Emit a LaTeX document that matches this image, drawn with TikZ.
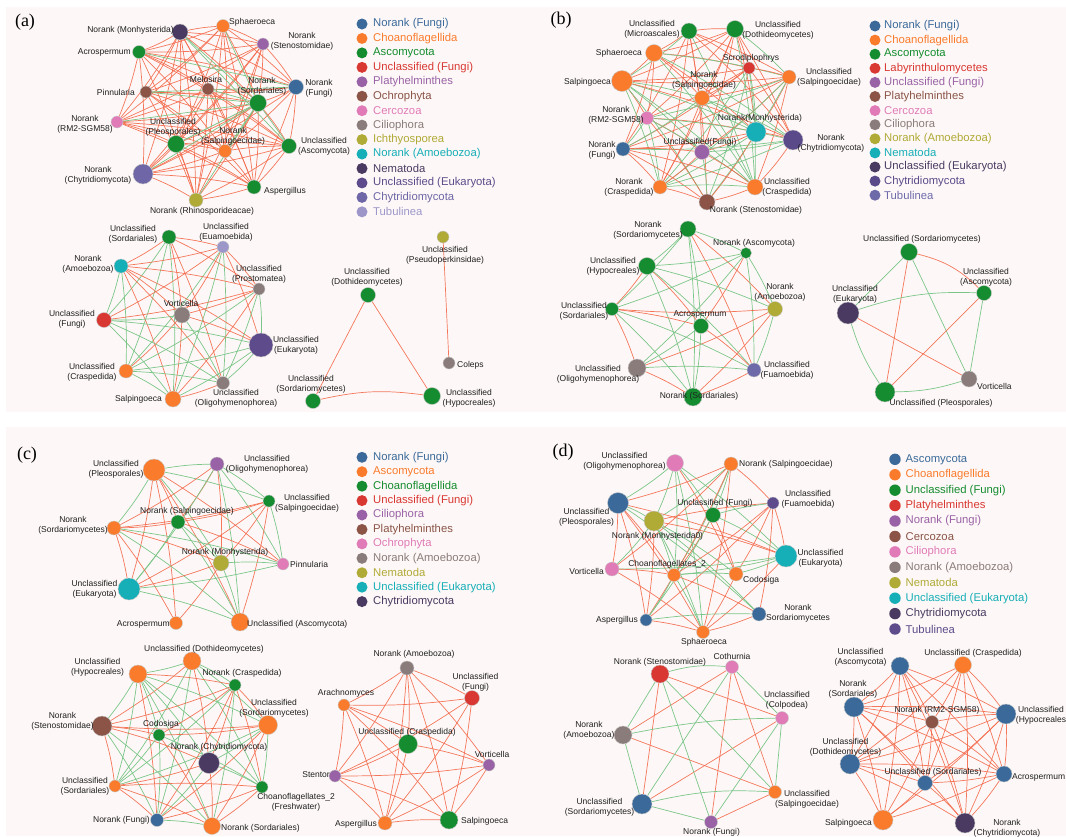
\documentclass[tikz,border=0pt]{standalone}
\usepackage{fontspec}
\setmainfont{Liberation Sans}
\newfontfamily\panelserif{Liberation Serif}
\pgfdeclarelayer{bglayer}
\pgfdeclarelayer{edgelayer}
\pgfsetlayers{bglayer,edgelayer,main}
\definecolor{cBlue}{HTML}{3B6A9A}
\definecolor{cOrange}{HTML}{FA7B2C}
\definecolor{cGreen}{HTML}{148C2F}
\definecolor{cRed}{HTML}{D93731}
\definecolor{cPurple}{HTML}{9A62A6}
\definecolor{cBrown}{HTML}{8B5447}
\definecolor{cPink}{HTML}{E07BB7}
\definecolor{cGray}{HTML}{8A7C7A}
\definecolor{cOlive}{HTML}{B0AA36}
\definecolor{cTeal}{HTML}{16AEB7}
\definecolor{cDark}{HTML}{4A3A62}
\definecolor{cEuk}{HTML}{5D4B8B}
\definecolor{cChy}{HTML}{6E66A6}
\definecolor{cTub}{HTML}{9D96C9}
\definecolor{cChyB}{HTML}{5B4A8A}
\definecolor{cTubB}{HTML}{6E6AAA}
\definecolor{cTubD}{HTML}{5E4B8C}
\definecolor{eRed}{HTML}{F4694A}
\definecolor{eGreen}{HTML}{7CC689}
\definecolor{panelbg}{HTML}{FDF8F7}
\newcommand\vtxnode[4]{\node[vtx,minimum size={2*#3},fill=#4] (#1) at (#2) {};}
\newcommand\labC[3]{\node[lbl] (#1l) at (#2) {#3};}
\newcommand\labE[3]{\node[lbl,anchor=east] (#1l) at (#2) {#3};}
\newcommand\labW[3]{\node[lbl,anchor=west] (#1l) at (#2) {#3};}
\newcommand\randnet[5]{%
  \pgfmathsetseed{#3}%
  \foreach \i in {1,...,#2}{%
    \foreach \j in {1,...,#2}{%
      \ifnum\j>\i\relax
        \pgfmathrandominteger{\rndv}{0}{99}%
        \ifnum\rndv<#4\relax\else
          \ifnum\rndv<#5\relax
            \draw[redE] (#1\i) to[bend left=4] (#1\j);
          \else
            \draw[greenE] (#1\i) to[bend left=4] (#1\j);
          \fi
        \fi
      \fi
    }%
  }%
}
\begin{document}
\begin{tikzpicture}[x=1pt,y=-1pt,
  vtx/.style={circle,inner sep=0pt,draw=black!22,line width=0.4pt},
  lbl/.style={font=\fontsize{8.5}{10.3}\selectfont,align=center,inner sep=0pt,text=black!88},
  ldot/.style={circle,inner sep=0pt,minimum size=11pt},
  ltxt/.style={font=\fontsize{11.3}{13}\selectfont,inner sep=0pt,anchor=west},
  ptag/.style={font=\panelserif\fontsize{18}{20}\selectfont,inner sep=0pt},
  redE/.style={draw=eRed,line width=0.7pt,opacity=0.9},
  greenE/.style={draw=eGreen,line width=0.7pt}]
\useasboundingbox (0,0) rectangle (1066,836);
\begin{pgfonlayer}{bglayer}
\fill[white] (0,0) rectangle (1066,836);
\fill[panelbg] (6,7) rectangle (1066,412);
\fill[panelbg] (6,427) rectangle (1066,836);
\end{pgfonlayer}
% panel tags
\node[ptag] (pa) at (25,22) {(a)};
\node[ptag] (pb) at (561,20) {(b)};
\node[ptag] (pc) at (27,455) {(c)};
\node[ptag] (pd) at (563,452) {(d)};
% ---------- panel a top
\vtxnode{A1}{180,32}{8}{cDark}
\vtxnode{A2}{223,26}{6.5}{cOrange}
\vtxnode{A3}{263,44}{6}{cPurple}
\vtxnode{A4}{139,52}{6.5}{cGreen}
\vtxnode{A5}{296,87}{7.5}{cBlue}
\vtxnode{A6}{208,89}{6}{cBrown}
\vtxnode{A7}{146,92}{6}{cBrown}
\vtxnode{A8}{258,103}{8.5}{cGreen}
\vtxnode{A9}{117,122}{6}{cPink}
\vtxnode{A10}{176,144}{8.5}{cGreen}
\vtxnode{A11}{225,151}{6.5}{cOrange}
\vtxnode{A12}{289,146}{7.5}{cGreen}
\vtxnode{A13}{143,174}{10}{cChy}
\vtxnode{A14}{254,187}{7}{cGreen}
\vtxnode{A15}{196,200}{7}{cOlive}
\labE{A1}{174,30}{Norank (Monhysterida)}
\labW{A2}{229,22}{Sphaeroeca}
\labC{A3}{302,41}{Norank\\(Stenostomidae)}
\labE{A4}{131,52}{Acrospermum}
\labC{A5}{319,88}{Norank\\(Fungi)}
\labC{A6}{206,79}{Melosira}
\labE{A7}{135,92}{Pinnularia}
\labC{A8}{262,86}{Norank\\(Sordariales)}
\labC{A9}{85,124}{Norank\\(RM2-SGM58)}
\labC{A10}{173,127}{Unclassified\\(Pleosporales)}
\labC{A11}{233,136.5}{Norank\\(Salpingoecidae)}
\labC{A12}{324,146}{Unclassified\\(Ascomycota)}
\labC{A13}{98,175}{Norank\\(Chytridiomycota)}
\labW{A14}{264,191}{Aspergillus}
\labC{A15}{202,211}{Norank (Rhinosporideacae)}
% ---------- panel a bottom left
\vtxnode{Ab1}{169,237}{7}{cGreen}
\vtxnode{Ab2}{223,247}{6}{cTub}
\vtxnode{Ab3}{121,266}{7}{cTeal}
\vtxnode{Ab4}{259,289}{6}{cGray}
\vtxnode{Ab5}{182,315}{8}{cGray}
\vtxnode{Ab6}{104,320}{7.5}{cRed}
\vtxnode{Ab7}{261,345}{12}{cEuk}
\vtxnode{Ab8}{126,371}{7}{cOrange}
\vtxnode{Ab9}{223,383}{6.5}{cGray}
\vtxnode{Ab10}{173,399}{8}{cOrange}
\labC{Ab1}{133,234}{Unclassified\\(Sordariales)}
\labC{Ab2}{226,232}{Unclassified\\(Euamoebida)}
\labC{Ab3}{88,264}{Norank\\(Amoebozoa)}
\labC{Ab4}{259,274}{Unclassified\\(Prostomatea)}
\labC{Ab5}{181,303}{Vorticella}
\labC{Ab6}{72,319.5}{Unclassified\\(Fungi)}
\labC{Ab7}{296,345}{Unclassified\\(Eukaryota)}
\labC{Ab8}{92,372.5}{Unclassified\\(Craspedida)}
\labC{Ab9}{236,398}{Unclassified\\(Oligohymenophorea)}
\labE{Ab10}{162,399}{Salpingoeca}
% ---------- panel a bottom right
\vtxnode{Ac1}{368,295}{7.5}{cGreen}
\vtxnode{Ac2}{313,401}{7.5}{cGreen}
\vtxnode{Ac3}{432,396}{8.5}{cGreen}
\vtxnode{Ac4}{443,237}{6}{cOlive}
\vtxnode{Ac5}{449,363}{6}{cGray}
\labC{Ac1}{367,277.5}{Unclassified\\(Dothideomycetes)}
\labC{Ac2}{311,384}{Unclassified\\(Sordariomycetes)}
\labC{Ac3}{469,398}{Unclassified\\(Hypocreales)}
\labC{Ac4}{445,255.5}{Unclassified\\(Pseudoperkinsidae)}
\labW{Ac5}{457,365}{Coleps}
% ---------- panel b top
\vtxnode{B1}{689,31}{8}{cGreen}
\vtxnode{B2}{735,29}{8.5}{cGreen}
\vtxnode{B3}{654,53}{8.5}{cOrange}
\vtxnode{B4}{749,68}{6}{cRed}
\vtxnode{B5}{789,77}{7}{cOrange}
\vtxnode{B6}{622,81}{10.5}{cOrange}
\vtxnode{B7}{702,98}{7.5}{cOrange}
\vtxnode{B8}{647,118}{6.5}{cPink}
\vtxnode{B9}{756,132}{10}{cTeal}
\vtxnode{B10}{793,140}{10}{cChyB}
\vtxnode{B11}{623,149}{7}{cBlue}
\vtxnode{B12}{702,152}{7.5}{cPurple}
\vtxnode{B13}{660,187}{7}{cOrange}
\vtxnode{B14}{755,187}{8}{cOrange}
\vtxnode{B15}{707,202}{8}{cBrown}
\labC{B1}{652,29}{Unclassified\\(Microascales)}
\labC{B2}{778,30}{Unclassified\\(Dothideomycetes)}
\labE{B3}{642,53}{Sphaeroeca}
\labC{B4}{751,58}{Scrodiplophrys}
\labC{B5}{829,77.5}{Unclassified\\(Salpingoecidae)}
\labE{B6}{611,82}{Salpingoeca}
\labC{B7}{704,80}{Norank\\(Salpingoecidae)}
\labC{B8}{616,115.5}{Norank\\(RM2-SGM58)}
\labC{B9}{760,118}{Norank(Monhysterida)}
\labC{B10}{831,143.5}{Norank\\(Chytridiomycota)}
\labC{B11}{602,150}{Norank\\(Fungi)}
\labC{B12}{700,142}{Unclassified(Fungi)}
\labC{B13}{629,187}{Norank\\(Craspedida)}
\labC{B14}{787,187}{Unclassified\\(Craspedida)}
\labC{B15}{756,210}{Norank (Stenostomidae)}
% ---------- panel b bottom left
\vtxnode{Bb1}{688,229}{8}{cGreen}
\vtxnode{Bb2}{746,253}{5.5}{cGreen}
\vtxnode{Bb3}{647,266}{8.5}{cGreen}
\vtxnode{Bb4}{775,309}{7.5}{cOlive}
\vtxnode{Bb5}{612,309}{6.5}{cGreen}
\vtxnode{Bb6}{701,326}{7.5}{cGreen}
\vtxnode{Bb7}{637,368}{9}{cGray}
\vtxnode{Bb8}{754,370}{7}{cTubB}
\vtxnode{Bb9}{693,397}{9}{cGreen}
\labC{Bb1}{648,230}{Norank\\(Sordariomycetes)}
\labC{Bb2}{754,243}{Norank (Ascomycota)}
\labC{Bb3}{613,266}{Unclassified\\(Hypocreales)}
\labC{Bb4}{780,292}{Norank\\(Amoebozoa)}
\labC{Bb5}{584,311}{Unclassified\\(Sordariales)}
\labC{Bb6}{700,314}{Acrospermum}
\labC{Bb7}{598,374}{Unclassified\\(Oligohymenophorea)}
\labC{Bb8}{787,370}{Unclassified\\(Fuamoebida)}
\labC{Bb9}{699,396}{Norank (Sordariales)}
% ---------- panel b bottom right
\vtxnode{Bc1}{909,252}{8.5}{cGreen}
\vtxnode{Bc2}{984,293}{7.5}{cGreen}
\vtxnode{Bc3}{848,313}{11}{cDark}
\vtxnode{Bc4}{969,379}{8}{cGray}
\vtxnode{Bc5}{885,392}{10}{cGreen}
\labC{Bc1}{922,239}{Unclassified (Sordariomycetes)}
\labC{Bc2}{986,277.5}{Unclassified\\(Ascomycota)}
\labC{Bc3}{855,294}{Unclassified\\(Eukaryota)}
\labW{Bc4}{977,386}{Vorticella}
\labC{Bc5}{941,403}{Unclassified (Pleosporales)}
% ---------- panel c top
\vtxnode{C1}{154,470}{11}{cOrange}
\vtxnode{C2}{217,464}{7}{cPurple}
\vtxnode{C3}{269,501}{6}{cGreen}
\vtxnode{C4}{178,522}{7}{cGreen}
\vtxnode{C5}{114,528}{7}{cOrange}
\vtxnode{C6}{221,563}{8}{cOlive}
\vtxnode{C7}{283,564}{6}{cPink}
\vtxnode{C8}{129,589}{11}{cTeal}
\vtxnode{C9}{176,623}{6.5}{cOrange}
\vtxnode{C10}{240,622}{9}{cOrange}
\labC{C1}{116,469}{Unclassified\\(Pleosporales)}
\labC{C2}{267,464}{Unclassified\\(Oligohymenophorea)}
\labC{C3}{307,503}{Unclassified\\(Salpingoecidae)}
\labC{C4}{187,511}{Norank (Salpingoecidae)}
\labC{C5}{73,525.5}{Norank\\(Sordariomycetes)}
\labC{C6}{225,552}{Norank (Monhysterida)}
\labW{C7}{290,564}{Pinnularia}
\labC{C8}{94.5,589}{Unclassified\\(Eukaryota)}
\labE{C9}{170,624}{Acrospermum}
\labW{C10}{247,624}{Unclassified (Ascomycota)}
% ---------- panel c bottom left
\vtxnode{Cb1}{192,661}{9}{cOrange}
\vtxnode{Cb2}{138,674}{9}{cOrange}
\vtxnode{Cb3}{235,685}{6}{cGreen}
\vtxnode{Cb4}{268,725}{9.5}{cOrange}
\vtxnode{Cb5}{102,726}{10}{cBrown}
\vtxnode{Cb6}{159,735}{6}{cGreen}
\vtxnode{Cb7}{209,763}{10.5}{cDark}
\vtxnode{Cb8}{115,786}{6}{cOrange}
\vtxnode{Cb9}{262,787}{6}{cGreen}
\vtxnode{Cb10}{157,820}{6.5}{cBlue}
\vtxnode{Cb11}{212,826}{8.5}{cOrange}
\labC{Cb1}{204,649}{Unclassified (Dothideomycetes)}
\labC{Cb2}{97.5,667.5}{Unclassified\\(Hypocreales)}
\labC{Cb3}{242,673}{Norank (Craspedida)}
\labC{Cb4}{274,708.5}{Unclassified\\(Sordariomycetes)}
\labC{Cb5}{62.5,721.5}{Norank\\(Stenostomidae)}
\labC{Cb6}{161,724}{Codosiga}
\labC{Cb7}{219,747}{Norank (Chytridiomycota)}
\labC{Cb8}{85,786.5}{Unclassified\\(Sordariales)}
\labC{Cb9}{296,802}{Choanoflagellates\_2\\(Freshwater)}
\labE{Cb10}{150,820}{Norank (Fungi)}
\labW{Cb11}{221,828}{Norank (Sordariales)}
% ---------- panel c bottom right
\vtxnode{Cc1}{407,668}{7}{cGray}
\vtxnode{Cc2}{472,698}{7.5}{cRed}
\vtxnode{Cc3}{344,705}{6}{cOrange}
\vtxnode{Cc4}{408,744}{9.5}{cGreen}
\vtxnode{Cc5}{489,765}{6}{cPurple}
\vtxnode{Cc6}{335,776}{6}{cPurple}
\vtxnode{Cc7}{385,823}{7}{cOrange}
\vtxnode{Cc8}{449,820}{9}{cGreen}
\labC{Cc1}{414,654}{Norank (Amoebozoa)}
\labC{Cc2}{475.5,682}{Unclassified\\(Fungi)}
\labC{Cc3}{346,693}{Arachnomyces}
\labC{Cc4}{407,732}{Unclassified (Craspedida)}
\labC{Cc5}{492,754}{Vorticella}
\labE{Cc6}{330,775}{Stentor}
\labE{Cc7}{377,824}{Aspergillus}
\labW{Cc8}{461,821}{Salpingoeca}
% ---------- panel d top
\vtxnode{D1}{675,463}{8.5}{cPink}
\vtxnode{D2}{731,464}{7}{cOrange}
\vtxnode{D3}{618,503}{10.5}{cBlue}
\vtxnode{D4}{654,521}{10}{cOlive}
\vtxnode{D5}{713,515}{7.5}{cGreen}
\vtxnode{D6}{773,503}{6}{cTubD}
\vtxnode{D7}{786,556}{11}{cTeal}
\vtxnode{D8}{612,569}{7}{cPink}
\vtxnode{D9}{674,575}{6.5}{cOrange}
\vtxnode{D10}{736,574}{7}{cOrange}
\vtxnode{D11}{646,620}{6}{cBlue}
\vtxnode{D12}{759,614}{7}{cBlue}
\vtxnode{D13}{703,632}{6.5}{cOrange}
\labC{D1}{624.5,461.5}{Unclassified\\(Oligohymenophorea)}
\labW{D2}{739,464}{Norank (Salpingoecidae)}
\labC{D3}{586.5,517}{Unclassified\\(Pleosporales)}
\labC{D4}{657.5,536}{Norank (Monhysterida0)}
\labC{D5}{715,503}{Unclassified (Fungi)}
\labC{D6}{808,499.5}{Unclassified\\(Fuamoebida)}
\labC{D7}{820.5,558.5}{Unclassified\\(Eukaryota)}
\labE{D8}{604,571}{Vorticella}
\labC{D9}{667,564}{Choanoflagellates\_2}
\labW{D10}{743,580}{Codosiga}
\labE{D11}{638,620}{Aspergillus}
\labC{D12}{798,613}{Norank\\Sordariomycetes}
\labC{D13}{704,642}{Sphaeroeca}
% ---------- panel d bottom left
\vtxnode{Db1}{660,674}{9}{cRed}
\vtxnode{Db2}{732,667}{6.5}{cPink}
\vtxnode{Db3}{782,718}{6.5}{cPink}
\vtxnode{Db4}{623,735}{9}{cGray}
\vtxnode{Db5}{642,804}{10}{cBlue}
\vtxnode{Db6}{775,792}{6.5}{cOrange}
\vtxnode{Db7}{711,822}{6.5}{cPurple}
\labC{Db1}{660,662}{Norank (Stenostomidae)}
\labC{Db2}{732,656}{Cothurnia}
\labC{Db3}{787,700.5}{Unclassified\\(Colpodea)}
\labC{Db4}{589,730.5}{Norank\\(Amoebozoa)}
\labC{Db5}{599.5,807.5}{Unclassified\\(Sordariomycetes)}
\labC{Db6}{807,799}{Unclassified\\(Salpingoecidae)}
\labC{Db7}{711.5,832}{Norank (Fungi)}
% ---------- panel d bottom right
\vtxnode{Dc1}{900,666}{9}{cBlue}
\vtxnode{Dc2}{963,665}{8.5}{cOrange}
\vtxnode{Dc3}{854,707}{10}{cBlue}
\vtxnode{Dc4}{932,722}{6.5}{cBrown}
\vtxnode{Dc5}{1006,714}{10}{cBlue}
\vtxnode{Dc6}{850,764}{10}{cBlue}
\vtxnode{Dc7}{1004,774}{8}{cBlue}
\vtxnode{Dc8}{925,783}{7.5}{cBlue}
\vtxnode{Dc9}{883,820}{10}{cOrange}
\vtxnode{Dc10}{965,823}{10}{cDark}
\labC{Dc1}{860.5,657.5}{Unclassified\\(Ascomycota)}
\labC{Dc2}{973,653}{Unclassified (Craspedida)}
\labC{Dc3}{853,689}{Norank\\(Sordariales)}
\labC{Dc4}{937,710}{Norank (RM2-SGM58)}
\labC{Dc5}{1041,715}{Unclassified\\(Hypocreales}
\labC{Dc6}{845.5,747}{Unclassified\\(Dothideomycetes)}
\labW{Dc7}{1012,777}{Acrospermum}
\labC{Dc8}{933,772}{Unclassified (Sordariales)}
\labE{Dc9}{872,823}{Salpingoeca}
\labC{Dc10}{1007,828}{Norank\\(Chytridiomycota)}
% ---------- edges
\begin{pgfonlayer}{edgelayer}
\randnet{A}{15}{11}{22}{101}
\foreach \u/\v in {1/8,1/12,4/5,2/8,7/8,6/8,9/8,10/8,8/12,8/15,8/11,7/5,13/8}
  \draw[greenE] (A\u) -- (A\v);
\randnet{Ab}{10}{21}{18}{56}
\randnet{B}{15}{31}{25}{70}
\randnet{Bb}{9}{41}{12}{55}
\randnet{C}{10}{51}{22}{60}
\randnet{Cb}{11}{61}{14}{58}
\randnet{Cc}{8}{71}{12}{101}
\randnet{D}{13}{81}{22}{60}
\randnet{Dc}{10}{91}{12}{101}
% a bottom right
\draw[redE] (Ac1) -- (Ac2);
\draw[redE] (Ac1) -- (Ac3);
\draw[redE] (Ac2) to[bend left=10] (Ac3);
\draw[redE] (Ac4) -- (Ac5);
% b bottom right
\draw[redE] (Bc1) to[bend left=15] (Bc2);
\draw[greenE] (Bc1) -- (Bc3);
\draw[redE] (Bc1) -- (Bc5);
\draw[greenE] (Bc1) -- (Bc4);
\draw[greenE] (Bc3) to[bend left=10] (Bc2);
\draw[redE] (Bc2) -- (Bc5);
\draw[greenE] (Bc2) -- (Bc4);
\draw[greenE] (Bc3) to[bend right=8] (Bc5);
\draw[redE] (Bc3) -- (Bc4);
\draw[greenE] (Bc5) to[bend right=8] (Bc4);
% d bottom left
\foreach \u/\v in {1/3,1/5,2/4,2/7,2/6,3/5,4/6,7/6}
  \draw[redE] (Db\u) -- (Db\v);
\foreach \u/\v in {1/4,1/7,1/6,2/3,2/5,3/6,3/7,5/7}
  \draw[greenE] (Db\u) -- (Db\v);
\draw[greenE] (Db1) to[bend left=10] (Db2);
\draw[greenE] (Db4) to[bend left=5] (Db3);
\draw[greenE] (Db5) to[bend left=8] (Db6);
\draw[greenE] (Db4) -- (Db5);
\end{pgfonlayer}
% ---------- legends
\foreach \t/\c [count=\k from 0] in {{Norank (Fungi)}/cBlue,{Choanoflagellida}/cOrange,{Ascomycota}/cGreen,{Unclassified (Fungi)}/cRed,{Platyhelminthes}/cPurple,{Ochrophyta}/cBrown,{Cercozoa}/cPink,{Ciliophora}/cGray,{Ichthyosporea}/cOlive,{Norank (Amoebozoa)}/cTeal,{Nematoda}/cDark,{Unclassified (Eukaryota)}/cEuk,{Chytridiomycota}/cChy,{Tubulinea}/cTub}{
  \node[ldot,fill=\c] (La\k) at (362,{24+14.45*\k}) {};
  \node[ltxt,text=\c] (Lat\k) at (373,{24+14.45*\k}) {\t};
}
\foreach \t/\c [count=\k from 0] in {{Norank (Fungi)}/cBlue,{Choanoflagellida}/cOrange,{Ascomycota}/cGreen,{Labyrinthulomycetes}/cRed,{Unclassified (Fungi)}/cPurple,{Platyhelminthes}/cBrown,{Cercozoa}/cPink,{Ciliophora}/cGray,{Norank (Amoebozoa)}/cOlive,{Nematoda}/cTeal,{Unclassified (Eukaryota)}/cDark,{Chytridiomycota}/cChyB,{Tubulinea}/cTubB}{
  \node[ldot,fill=\c] (Lb\k) at (875,{26+14.1*\k}) {};
  \node[ltxt,text=\c] (Lbt\k) at (884,{26+14.1*\k}) {\t};
}
\foreach \t/\c [count=\k from 0] in {{Norank (Fungi)}/cBlue,{Ascomycota}/cOrange,{Choanoflagellida}/cGreen,{Unclassified (Fungi)}/cRed,{Ciliophora}/cPurple,{Platyhelminthes}/cBrown,{Ochrophyta}/cPink,{Norank (Amoebozoa)}/cGray,{Nematoda}/cOlive,{Unclassified (Eukaryota)}/cTeal,{Chytridiomycota}/cDark}{
  \node[ldot,fill=\c] (Lc\k) at (362,{457.3+14.43*\k}) {};
  \node[ltxt,text=\c] (Lct\k) at (373,{457.3+14.43*\k}) {\t};
}
\foreach \t/\c [count=\k from 0] in {{Ascomycota}/cBlue,{Choanoflagellida}/cOrange,{Unclassified (Fungi)}/cGreen,{Platyhelminthes}/cRed,{Norank (Fungi)}/cPurple,{Cercozoa}/cBrown,{Ciliophora}/cPink,{Norank (Amoebozoa)}/cGray,{Nematoda}/cOlive,{Unclassified (Eukaryota)}/cTeal,{Chytridiomycota}/cDark,{Tubulinea}/cTubD}{
  \node[ldot,fill=\c,minimum size=11.4pt] (Ld\k) at (895,{459.3+15.43*\k}) {};
  \node[ltxt,text=\c] (Ldt\k) at (905.5,{459.3+15.43*\k}) {\t};
}
\end{tikzpicture}
\end{document}
